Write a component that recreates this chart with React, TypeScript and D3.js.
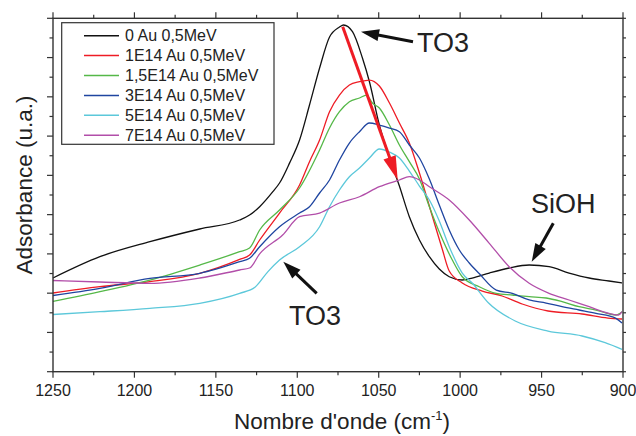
import React from "react";
import * as d3 from "d3";

// wavenumber (cm-1) / absorbance (arb. units, 0..9 axis)
const wn0 = [1250,1221.2,1190.5,1159.9,1135.4,1129.3,1123.1,1115.0,1110.9,1104.7,1098.6,1092.5,1086.3,1080.2,1074.1,1071.6,1066.1,1060.0,1055.7,1049.6,1043.4,1037.3,1031.2,1025.0,1018.9,1012.8,1006.7,998.7,992.6,982.1,969.9,957.6,945.4,933.1,920.8,908.6,900.6];
const abs0 = [2.386,2.928,3.310,3.634,3.863,3.990,4.202,4.584,4.805,5.318,5.900,6.791,7.734,8.523,8.777,8.829,8.658,7.988,7.385,6.282,5.442,4.729,3.947,3.354,2.928,2.615,2.419,2.335,2.386,2.513,2.641,2.717,2.674,2.513,2.386,2.310,2.259];

const wn1 = [1250,1221.2,1190.5,1159.9,1135.4,1129.3,1123.1,1110.9,1098.6,1092.5,1086.3,1080.2,1074.1,1068.0,1061.8,1055.7,1049.6,1043.4,1037.3,1031.2,1025.0,1017.1,1011.0,1006.7,998.7,986.4,974.2,961.9,946.0,925.1,909.2,900.6];
const abs1 = [2.004,2.165,2.292,2.506,2.86,2.97,3.354,4.041,4.754,5.348,5.900,6.621,7.046,7.300,7.385,7.428,7.275,6.842,6.333,5.824,5.06,3.965,3.125,2.564,2.259,2.055,1.928,1.724,1.546,1.469,1.367,1.342];

const wn2 = [1250,1221.2,1190.5,1159.9,1135.4,1129.3,1123.1,1110.9,1098.6,1086.3,1080.2,1074.1,1068.0,1061.8,1057.5,1053.9,1049.6,1043.4,1037.3,1031.2,1025.0,1018.9,1012.8,1004.8,998.7,988.3,977.8,968.0,957.6,947.2,937.4,927.0,916.6,904.3,900.6];
const abs2 = [1.788,2.037,2.335,2.717,3.056,3.150,3.609,4.118,4.678,5.646,6.206,6.621,6.876,6.970,7.046,6.842,6.715,6.282,5.773,5.348,4.907,4.202,3.557,2.844,2.419,2.164,1.996,1.953,1.910,1.877,1.783,1.655,1.571,1.444,1.528];

const wn3 = [1250,1221.2,1190.5,1159.9,1135.4,1129.3,1123.1,1110.9,1098.6,1092.5,1086.3,1080.2,1074.1,1068.0,1061.8,1055.7,1049.6,1043.4,1037.3,1031.2,1025.0,1018.9,1012.8,1006.7,1000.5,994.4,988.3,977.8,968.0,957.6,947.2,937.4,927.0,916.6,904.3,900.6];
const abs3 = [1.940,2.124,2.378,2.506,2.801,2.888,3.183,3.692,4.041,4.202,4.551,4.882,5.391,5.824,6.112,6.333,6.282,6.206,6.112,5.773,5.442,4.907,4.245,3.609,3.099,2.768,2.50,2.080,1.996,1.826,1.749,1.655,1.571,1.487,1.360,1.240];

const wn4 = [1250,1221.2,1190.5,1159.9,1135.4,1126.0,1118.0,1110.9,1098.6,1086.3,1080.2,1074.1,1068.0,1061.8,1055.7,1049.6,1043.4,1037.3,1031.2,1025.0,1018.9,1012.8,1006.7,998.7,992.6,982.7,966.2,946.0,925.1,911.0,900.6];
const abs4 = [1.457,1.528,1.614,1.742,1.996,2.15,2.55,2.844,3.183,3.692,4.202,4.627,4.966,5.187,5.442,5.671,5.595,5.442,5.111,4.729,4.372,3.838,3.183,2.513,2.259,1.757,1.291,1.036,0.909,0.738,0.570];

const wn5 = [1250,1221.2,1190.5,1159.9,1135.4,1129.3,1123.1,1109.0,1098.6,1086.3,1074.1,1061.8,1049.6,1037.3,1031.2,1025.0,1018.9,1006.7,994.4,982.1,969.9,957.6,945.4,933.1,920.8,908.6,902.7,900.6];
const abs5 = [2.322,2.284,2.251,2.386,2.590,2.641,3.0,3.481,3.947,4.041,4.296,4.456,4.711,4.882,4.966,4.882,4.711,4.372,3.863,3.270,2.674,2.251,1.996,1.826,1.655,1.487,1.444,1.528];

const seriesNames = ["0 Au 0,5MeV","1E14 Au 0,5MeV","1,5E14 Au 0,5MeV","3E14 Au 0,5MeV","5E14 Au 0,5MeV","7E14 Au 0,5MeV"];
const seriesColors = ["#111111","#ee1c25","#55b848","#1f45a0","#5cc8da","#b24ea9"];
const seriesX = [wn0, wn1, wn2, wn3, wn4, wn5];
const seriesY = [abs0, abs1, abs2, abs3, abs4, abs5];

const xTicks = [1250,1200,1150,1100,1050,1000,950,900];

const W = 636, H = 436;
const L = 53, R = 623, T = 18.3, B = 371.7;

export default function App() {
  const x = d3.scaleLinear().domain([1250, 900]).range([L, R]);
  const y = d3.scaleLinear().domain([0, 9]).range([B, T]);
  const line = d3.line<[number, number]>()
    .x(d => x(d[0])).y(d => y(d[1])).curve(d3.curveMonotoneX);

  const minorX = d3.range(1250, 899, -25);
  const minorY = d3.range(0, 9.01, 0.5);
  const axisColor = "#333";
  const font = "Arial, 'Liberation Sans', Helvetica, sans-serif";

  const arrow = (x1: number, y1: number, x2: number, y2: number, color: string, w: number, hl: number, hw: number, key: string) => {
    const a = Math.atan2(y2 - y1, x2 - x1);
    const bx = x2 - hl * Math.cos(a), by = y2 - hl * Math.sin(a);
    const px = -Math.sin(a) * hw, py = Math.cos(a) * hw;
    return (
      <g key={key}>
        <line x1={x1} y1={y1} x2={bx + 2 * Math.cos(a)} y2={by + 2 * Math.sin(a)} stroke={color} strokeWidth={w} />
        <polygon points={`${x2},${y2} ${bx + px},${by + py} ${bx - px},${by - py}`} fill={color} />
      </g>
    );
  };

  return (
    <svg width={W} height={H} style={{ position: "absolute", left: 0, top: 0, background: "#fff" }} fontFamily={font}>
      <rect x={0} y={0} width={W} height={H} fill="#fff" />
      {/* curves */}
      <g fill="none" strokeWidth={1.3} strokeLinejoin="round">
        {seriesX.map((xs, i) => (
          <path key={i} d={line(xs.map((v, j) => [v, seriesY[i][j]] as [number, number])) || ""} stroke={seriesColors[i]} />
        ))}
      </g>
      {/* frame */}
      <rect x={L} y={T} width={R - L} height={B - T} fill="none" stroke={axisColor} strokeWidth={1.4} />
      {/* bottom & top ticks */}
      {minorX.map(v => {
        const major = v % 50 === 0;
        const len = major ? 6 : 3.5;
        return (
          <g key={"xt" + v} stroke={axisColor} strokeWidth={1.2}>
            <line x1={x(v)} x2={x(v)} y1={B} y2={B + len} />
            <line x1={x(v)} x2={x(v)} y1={T} y2={T - len} />
          </g>
        );
      })}
      {xTicks.map(v => (
        <text key={"xl" + v} x={x(v)} y={396} textAnchor="middle" fontSize={16} fill="#222">{v}</text>
      ))}
      {/* left & right ticks */}
      {minorY.map((v, i) => {
        const major = i % 2 === 0;
        const len = major ? 6 : 3.5;
        return (
          <g key={"yt" + i} stroke={axisColor} strokeWidth={1.2}>
            <line x1={L} x2={L - len} y1={y(v)} y2={y(v)} />
            <line x1={R} x2={R + 3} y1={y(v)} y2={y(v)} />
          </g>
        );
      })}
      {/* axis titles */}
      <text transform={`translate(32,185) rotate(-90)`} textAnchor="middle" fontSize={22.5} fill="#222">Adsorbance (u.a.)</text>
      <text x={342} y={429} textAnchor="middle" fontSize={22.5} fill="#222">
        Nombre d'onde (cm<tspan dy={-9} fontSize={13}>-1</tspan><tspan dy={9}>)</tspan>
      </text>
      {/* legend */}
      <rect x={61.7} y={22.7} width={212.3} height={121.6} fill="#fff" stroke={axisColor} strokeWidth={1.2} />
      {seriesNames.map((n, i) => {
        const cy = 35.7 + i * 19.9;
        return (
          <g key={"lg" + i}>
            <line x1={84} x2={119} y1={cy} y2={cy} stroke={seriesColors[i]} strokeWidth={1.5} />
            <text x={125} y={cy + 5.7} fontSize={16} fill="#222">{n}</text>
          </g>
        );
      })}
      {/* annotations */}
      {arrow(413, 41.7, 361, 31.7, "#111", 3, 18, 6, "a1")}
      <text x={417} y={51.7} fontSize={27} fill="#222">TO3</text>
      {arrow(553.3, 223.3, 531.7, 261.7, "#111", 3, 18, 6, "a2")}
      <text x={531} y={213} fontSize={27} fill="#222">SiOH</text>
      {arrow(316.7, 293.3, 283.3, 261.7, "#111", 3, 18, 6, "a3")}
      <text x={289} y={325} fontSize={27} fill="#222">TO3</text>
      {arrow(342.7, 26.7, 397.7, 180, "#ee1c25", 3, 24, 6.5, "a4")}
    </svg>
  );
}
